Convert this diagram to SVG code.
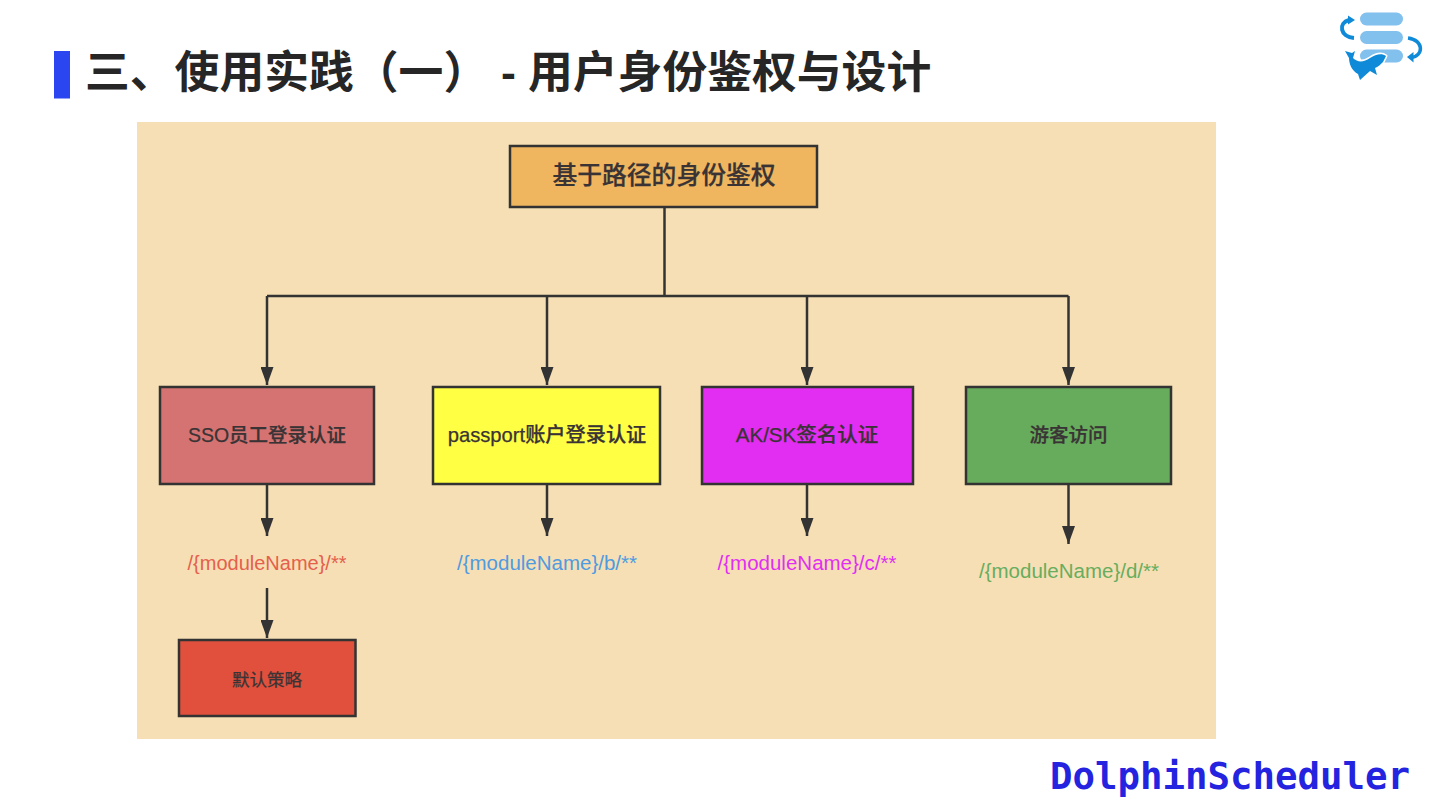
<svg xmlns="http://www.w3.org/2000/svg" width="1440" height="810" viewBox="0 0 1440 810">
<defs>
<style>
.cn{font-family:"Liberation Sans","Noto Sans CJK SC",sans-serif}
.title{font-size:44.800px;font-weight:700;fill:#262626}
.node rect{stroke:#333333;stroke-width:2.5}
.lbl{font-size:19.500px;font-weight:500;fill:#3a3335;text-anchor:middle;stroke:#3a3335;stroke-width:.25}
.path{font-size:20.500px;text-anchor:middle}
.conn path{fill:none;stroke:#333333;stroke-width:2.5}
.bar{fill:#82c0ee}
.logo{fill:#0f8ad8}
.arc{fill:none;stroke:#0f8ad8}
</style>
<marker id="ah" markerUnits="userSpaceOnUse" markerWidth="18" markerHeight="13" refX="18" refY="6.5" orient="auto" viewBox="0 0 18 13"><path d="M0 0L18 6.5L0 13Z" fill="#333333"/></marker>
</defs>
<rect width="1440" height="810" fill="#ffffff"/>
<rect x="54" y="51" width="16" height="47.500" fill="#2b45f0"/>
<text class="cn title" x="85" y="88">三、使用实践（一）</text>
<text class="cn title" x="501" y="88">-</text>
<text class="cn title" x="528" y="88">用户身份鉴权与设计</text>
<rect x="137" y="122" width="1079" height="617" fill="#f6dfb5"/>

<g class="conn">
<path d="M664.500 207V296"/>
<path d="M267 296H1068.500"/>
<path d="M267 296V385" marker-end="url(#ah)"/>
<path d="M547 296V385" marker-end="url(#ah)"/>
<path d="M807 296V385" marker-end="url(#ah)"/>
<path d="M1068.500 296V385" marker-end="url(#ah)"/>
<path d="M267 484V536" marker-end="url(#ah)"/>
<path d="M547 484V536" marker-end="url(#ah)"/>
<path d="M807 484V536" marker-end="url(#ah)"/>
<path d="M1068.500 484V544" marker-end="url(#ah)"/>
<path d="M267 588V638" marker-end="url(#ah)"/>
</g>

<g id="root" class="node"><rect x="510" y="146" width="307" height="61" fill="#f0b65f"/><text class="cn lbl" style="font-size:24.800px" x="664" y="184">基于路径的身份鉴权</text></g>
<g id="sso" class="node"><rect x="160" y="387" width="214" height="97" fill="#d57372"/><text class="cn lbl" x="267" y="442">SSO员工登录认证</text></g>
<g id="passport" class="node"><rect x="433" y="387" width="227" height="97" fill="#ffff44"/><text class="cn lbl" style="font-size:20.200px" x="547" y="442">passport账户登录认证</text></g>
<g id="aksk" class="node"><rect x="702" y="387" width="211" height="97" fill="#e22ef2"/><text class="cn lbl" style="font-size:20.500px" x="807" y="442">AK/SK签名认证</text></g>
<g id="guest" class="node"><rect x="966" y="387" width="205" height="97" fill="#67ac5c"/><text class="cn lbl" x="1068.500" y="442">游客访问</text></g>
<g id="default" class="node"><rect x="179" y="640" width="176.500" height="76" fill="#e1503c"/><text class="cn lbl" style="font-size:17.500px;font-weight:400" x="267" y="686">默认策略</text></g>

<g id="path-a"><text class="cn path" style="font-size:20px" x="267" y="570" fill="#e5604c">/{moduleName}/**</text></g>
<g id="path-b"><text class="cn path" x="547" y="570" fill="#4f9be0">/{moduleName}/b/**</text></g>
<g id="path-c"><text class="cn path" x="807" y="570" fill="#e22ef2">/{moduleName}/c/**</text></g>
<g id="path-d"><text class="cn path" x="1069" y="578" fill="#68ad5e">/{moduleName}/d/**</text></g>

<g id="logo">
<rect class="bar" x="1360" y="12.500" width="43" height="13" rx="6.500"/>
<rect class="bar" x="1360" y="31" width="43" height="13" rx="6.500"/>
<rect class="bar" x="1360" y="49.500" width="43" height="13" rx="6.500"/>
<path class="arc" stroke-width="4" d="M1354 38C1340 37 1338 23 1349 20"/>
<path class="logo" d="M1355 20L1348 15.500V24.500Z"/>
<path class="arc" stroke-width="3.500" d="M1408 38C1424 40 1424 56 1411 57.500"/>
<path class="logo" d="M1407 57L1413.500 52V62.500Z"/>
<path d="M1345 51L1352 53L1355 51L1353 58C1358 63 1364 62 1370 58C1376 54 1382 53 1386 56L1383 62C1380 65 1378 67 1375 68L1377 75L1370 71L1360 80L1358 74C1352 71 1349 64 1349 58Z" fill="#ffffff" stroke="#ffffff" stroke-width="3" stroke-linejoin="round"/>
<path class="logo" d="M1345 51L1352 53L1355 51L1353 58C1358 63 1364 62 1370 58C1376 54 1382 53 1386 56L1383 62C1380 65 1378 67 1375 68L1377 75L1370 71L1360 80L1358 74C1352 71 1349 64 1349 58Z"/>
</g>

<text id="brand" x="1050" y="789" font-family="'DejaVu Sans Mono',monospace" font-weight="700" font-size="38" fill="#2323e0" textLength="360" lengthAdjust="spacingAndGlyphs">DolphinScheduler</text>
</svg>
